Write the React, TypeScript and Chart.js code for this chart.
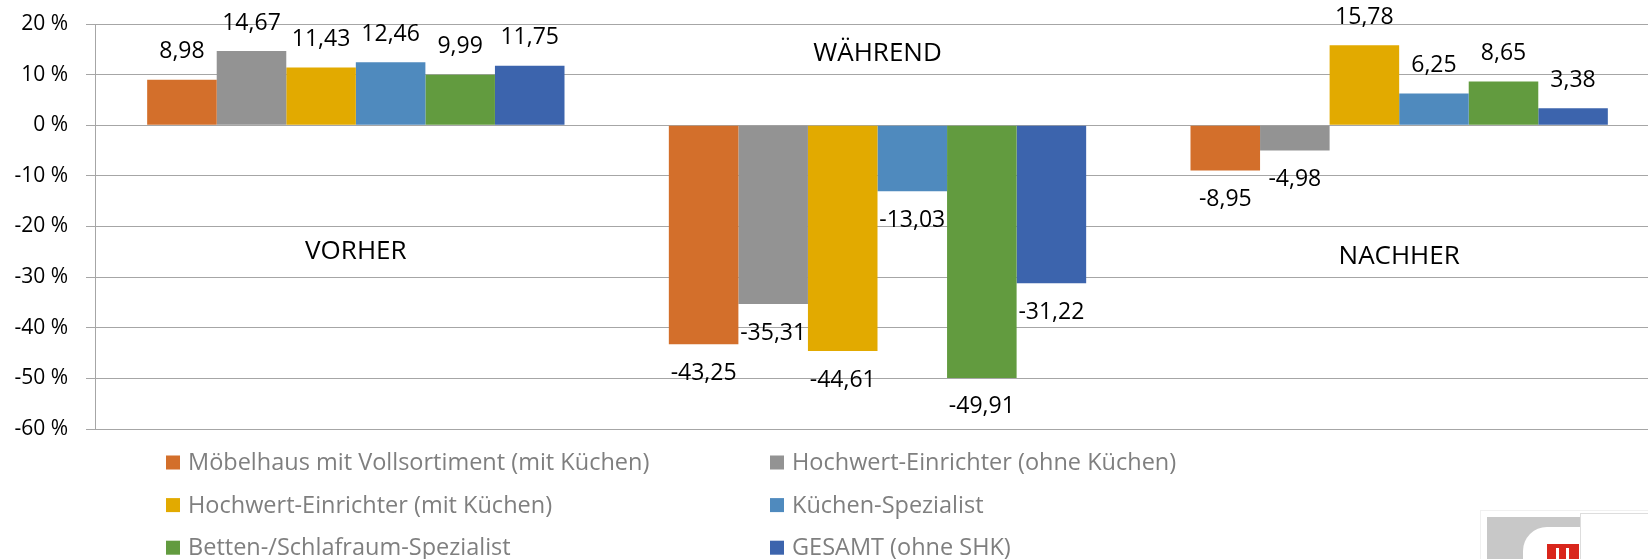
import React, { useEffect, useRef } from "react";
import { Chart, registerables } from "chart.js";

Chart.register(...registerables);

const categories = ["VORHER", "WÄHREND", "NACHHER"];
const categoryLabelY = [-24.9, 14.1, -25.9];

const seriesNames = [
  "Möbelhaus mit Vollsortiment (mit Küchen)",
  "Hochwert-Einrichter (ohne Küchen)",
  "Hochwert-Einrichter (mit Küchen)",
  "Küchen-Spezialist",
  "Betten-/Schlafraum-Spezialist",
  "GESAMT (ohne SHK)",
];
const seriesColors = ["#D36F2B", "#939393", "#E2AA00", "#4F8ABE", "#629B3F", "#3C64AD"];

const moebelhaus = [8.98, -43.25, -8.95];
const hochwertOhne = [14.67, -35.31, -4.98];
const hochwertMit = [11.43, -44.61, 15.78];
const kuechen = [12.46, -13.03, 6.25];
const betten = [9.99, -49.91, 8.65];
const gesamt = [11.75, -31.22, 3.38];
const seriesValues = [moebelhaus, hochwertOhne, hochwertMit, kuechen, betten, gesamt];

const yMin = -60;
const yMax = 20;
const yStep = 10;

const FONT = '"Open Sans", "Noto Sans", sans-serif';

const labelsPlugin = {
  id: "customLabels",
  afterDatasetsDraw(chart: any) {
    const ctx = chart.ctx;
    ctx.save();
    ctx.fillStyle = "#000000";
    ctx.textAlign = "center";
    ctx.textBaseline = "middle";
    ctx.font = `23px ${FONT}`;
    chart.data.datasets.forEach((ds: any, di: number) => {
      const meta = chart.getDatasetMeta(di);
      meta.data.forEach((bar: any, i: number) => {
        const v = ds.data[i] as number;
        const { x, y } = bar.getProps(["x", "y"], true);
        const txt = v.toFixed(2).replace(".", ",");
        ctx.fillText(txt, x, v >= 0 ? y - 28 : y + 29);
      });
    });
    const xs = chart.scales.x;
    const ys = chart.scales.y;
    ctx.font = `26px ${FONT}`;
    categories.forEach((c, i) => {
      ctx.fillText(c, xs.getPixelForValue(i), ys.getPixelForValue(categoryLabelY[i]));
    });
    ctx.restore();
  },
  afterDraw(chart: any) {
    const ctx = chart.ctx;
    const { left, bottom } = chart.chartArea;
    ctx.save();
    ctx.font = `23.5px ${FONT}`;
    ctx.textAlign = "left";
    ctx.textBaseline = "middle";
    chart.data.datasets.forEach((ds: any, i: number) => {
      const col = i % 2;
      const row = Math.floor(i / 2);
      const x = left + 71 + col * 604;
      const y = bottom + 33.5 + row * 42.6;
      ctx.fillStyle = ds.backgroundColor;
      ctx.fillRect(x, y - 7, 14, 14);
      ctx.fillStyle = "#7F7F7F";
      ctx.fillText(ds.label, x + 22, y + 1);
    });
    ctx.restore();
  },
};

export default function App() {
  const canvasRef = useRef<HTMLCanvasElement | null>(null);

  useEffect(() => {
    if (!canvasRef.current) return;
    const chart = new Chart(canvasRef.current, {
      type: "bar",
      data: {
        labels: categories,
        datasets: seriesNames.map((name, i) => ({
          label: name,
          data: seriesValues[i],
          backgroundColor: seriesColors[i],
          borderWidth: 0,
          categoryPercentage: 0.8,
          barPercentage: 1.0,
        })),
      },
      options: {
        animation: false,
        responsive: false,
        maintainAspectRatio: false,
        layout: { padding: { top: 24, bottom: 130, left: 0, right: 0 } },
        plugins: {
          legend: { display: false },
          tooltip: { enabled: false },
        },
        scales: {
          x: {
            display: false,
            offset: true,
          },
          y: {
            min: yMin,
            max: yMax,
            afterFit: (s: any) => {
              s.width = 95;
              s.paddingTop = 0;
              s.paddingBottom = 0;
            },
            ticks: {
              stepSize: yStep,
              padding: 18,
              color: "#000000",
              font: { family: FONT, size: 21 },
              callback: (v: any) => `${v} %`,
            },
            grid: {
              color: "#A6A6A6",
              lineWidth: 1,
              tickLength: 9,
              drawTicks: true,
            },
            border: { display: true, color: "#A6A6A6", width: 1 },
          },
        },
      },
      plugins: [labelsPlugin],
    });
    return () => chart.destroy();
  }, []);

  return (
    <div
      style={{
        position: "absolute",
        left: 0,
        top: 0,
        width: 1648,
        height: 559,
        overflow: "hidden",
        background: "#ffffff",
      }}
    >
      <canvas ref={canvasRef} width={1660} height={559} style={{ width: 1660, height: 559, display: "block" }} />
      <div style={{ position: "absolute", left: 1480, top: 510, width: 200, height: 60, border: "1px solid #f0f0f0" }} />
      <div style={{ position: "absolute", left: 1487, top: 517, width: 93, height: 50, background: "#C8C8C8" }} />
      <div
        style={{
          position: "absolute",
          left: 1523,
          top: 527,
          width: 57,
          height: 40,
          background: "#ffffff",
          borderTopLeftRadius: 24,
        }}
      />
      <div style={{ position: "absolute", left: 1547, top: 544, width: 32, height: 20, background: "#D9261C" }} />
      <div style={{ position: "absolute", left: 1556, top: 548, width: 3, height: 20, background: "#ffffff" }} />
      <div style={{ position: "absolute", left: 1566, top: 548, width: 3, height: 20, background: "#ffffff" }} />
      <div
        style={{
          position: "absolute",
          left: 1580,
          top: 513,
          width: 80,
          height: 60,
          background: "#ffffff",
          border: "1px solid #dddddd",
        }}
      />
    </div>
  );
}
